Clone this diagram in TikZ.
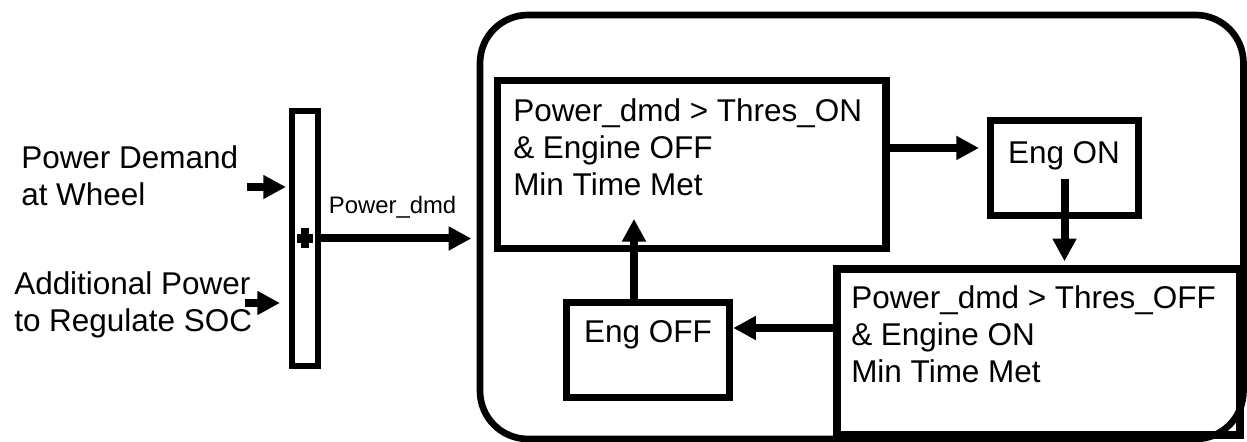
\documentclass[tikz,border=0pt]{standalone}
\usepackage{fontspec}
\setmainfont{Liberation Sans}
\usepackage{tikz}
\usetikzlibrary{arrows.meta, positioning, calc}
\tikzstyle{statebox} = [rectangle, draw=black, line width=5.6pt, inner sep=0pt]
\tikzstyle{txt} = [font=\fontsize{23.6pt}{27.75pt}\selectfont, inner sep=0pt, align=left]
\tikzstyle{arr} = [line width=6pt, -{Triangle[length=17pt, width=17pt]}]

\begin{document}
\begin{tikzpicture}[x=0.75pt, y=-0.75pt]
\useasboundingbox (0,0) rectangle (1247,442);
\node (demand) [txt, anchor=north west] at (21,145) {Power Demand\\at Wheel};
\node (extra) [txt, anchor=north west] at (14,271) {Additional Power\\to Regulate SOC};
\node (sum) [rectangle, draw, line width=4.3pt, inner sep=0pt, minimum width=19.5pt, minimum height=191.25pt] at (305,238.5) {};
\draw [line width=7pt] ($(sum)+(-8,0)$) -- ($(sum)+(8,0)$);
\draw [line width=5.8pt] ($(sum)+(0,-10)$) -- ($(sum)+(0,10)$);
\coordinate (in1) at (247,187);
\coordinate (in2) at (245,303);
\draw [arr, shorten >=2.4pt] (in1) -- (in1 -| sum.west);
\draw [arr, shorten >=6.9pt] (in2) -- (in2 -| sum.west);
\node (ctrl) [draw, line width=5pt, rounded corners=36pt, inner sep=0pt, minimum width=572.6pt, minimum height=318pt] at (861.75,227) {};
\draw [arr, shorten >=4pt] (sum.east) -- node[pos=0.46, above=9pt, font=\fontsize{17.9pt}{21pt}\selectfont] (dmdlabel) {Power\_dmd} (sum.east -| ctrl.west);
\node (cond1) [statebox, minimum width=291.4pt, minimum height=126pt] at (691.75,164.5) {};
\node (engon) [statebox, minimum width=111pt, minimum height=71.25pt] at (1064.5,168) {};
\node (cond2) [statebox, minimum width=302.25pt, minimum height=124.5pt] at (1038.5,352) {};
\node (engoff) [statebox, minimum width=122.25pt, minimum height=71.25pt] at (648,350) {};
\node (cond1txt) [txt, anchor=north west] at (513,98) {Power\_dmd > Thres\_ON\\\& Engine OFF\\Min Time Met};
\node (engontxt) [txt, anchor=base] at (1064,164) {Eng ON};
\node (cond2txt) [txt, anchor=north west] at (851,285) {Power\_dmd > Thres\_OFF\\\& Engine ON\\Min Time Met};
\node (engofftxt) [txt, anchor=base] at (648,343) {Eng OFF};
\coordinate (c1out) at ([yshift=12.4pt]cond1.east);
\coordinate (c2out) at ([yshift=18pt]cond2.west);
\coordinate (offout) at ([xshift=-10.5pt]engoff.north);
\draw [arr, shorten >=5.8pt] (c1out) -- (c1out -| engon.west);
\draw [arr, shorten <=-30pt, shorten >=3pt] (engon.south) -- (engon.south |- cond2.north);
\draw [arr, shorten <=-3pt] (c2out) -- (c2out -| engoff.east);
\draw [arr, shorten <=-3.5pt, shorten >=-25pt] (offout) -- (offout |- cond1.south);
\end{tikzpicture}
\end{document}
